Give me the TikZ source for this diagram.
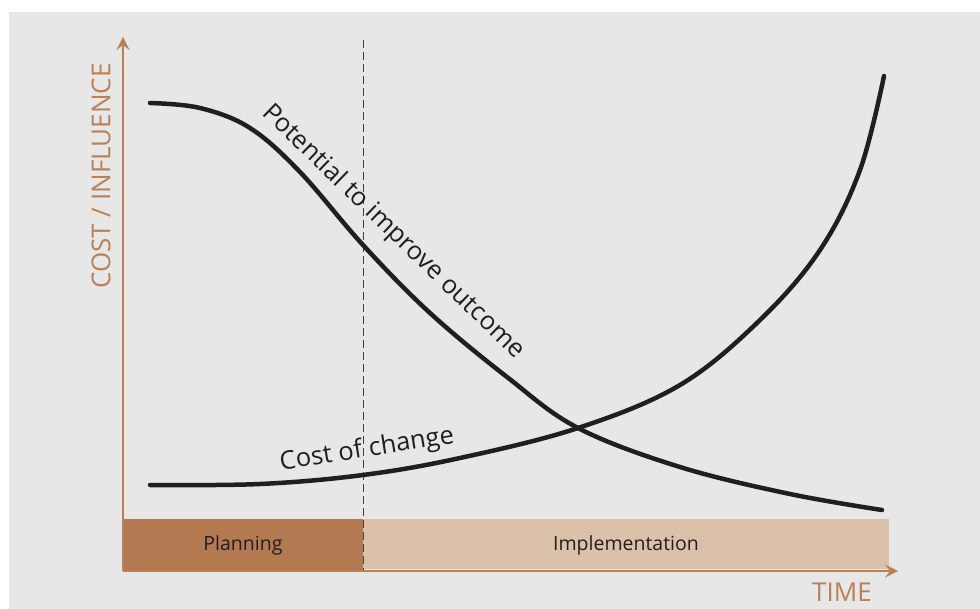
\documentclass[tikz,border=0pt]{standalone}
\usepackage{fontspec}
\setmainfont{Open Sans}
\usetikzlibrary{arrows.meta}
\definecolor{bggray}{HTML}{E6E7E6}
\definecolor{axisbrown}{HTML}{BC8055}
\definecolor{planbrown}{HTML}{B37A51}
\definecolor{implbeige}{HTML}{DBC0AA}
\definecolor{curveblack}{HTML}{221E1F}
\tikzset{
  axisline/.style={draw=axisbrown, line width=1.6pt, -{Stealth[length=13pt,width=13pt,inset=5pt]}},
  curveline/.style={draw=curveblack, line width=4.5pt, line cap=round},
  phasebox/.style={inner sep=0pt, anchor=north west},
  curvelabel/.style={font=\fontsize{25.5}{25.5}\selectfont, text=curveblack, inner sep=0pt},
  axislabel/.style={font=\fontsize{26}{26}\selectfont, text=axisbrown, inner sep=0pt},
  barlabel/.style={font=\fontsize{19.5}{19.5}\selectfont, text=curveblack, inner sep=0pt},
}
\begin{document}
\begin{tikzpicture}[x=1pt, y=-1pt]
\useasboundingbox (0,0) rectangle (980,609);
\fill[white] (0,0) rectangle (980,609);
\fill[bggray] (9,12) rectangle (980,609);
% phase bars
\node[phasebox, fill=planbrown, minimum width=240pt, minimum height=52pt] (plan) at (123,519) {};
\node[phasebox, fill=implbeige, minimum width=526pt, minimum height=50pt] (impl) at (363,519) {};
\node[barlabel] (planlbl) at (243,545) {Planning};
\node[barlabel] (impllbl) at (626,545) {Implementation};
% dashed divider
\coordinate (dtop) at (363,40);
\coordinate (dbot) at (363,571);
\draw[curveblack!85, line width=0.8pt, dash pattern=on 8pt off 4pt] (dtop) -- (dbot);
% axes
\coordinate (origin) at (123,571);
\coordinate (ytip) at (123,37);
\coordinate (xtip) at (898,571);
\draw[axisline] (origin) -- (ytip);
\draw[axisline] (origin) -- (xtip);
\node[axislabel, rotate=90] (ylbl) at (101,176) {COST / INFLUENCE};
\node[axislabel] (xlbl) at (842,592) {TIME};
% curves
\draw[curveline] plot[smooth, tension=0.6] coordinates {(150,103) (200,108) (250,128) (300,172) (363,245) (430,313) (507,377) (578,428) (680,467) (790,494) (882,510)};
\draw[curveline] plot[smooth, tension=0.6] coordinates {(150,485) (260,484) (363,475) (460,458) (578,428) (680,385) (760,320) (820,250) (860,170) (884,76)};
% labels
\node[curvelabel, rotate=-44] (potlbl) at (393,232) {Potential to improve outcome};
\node[curvelabel, rotate=9] (costlbl) at (367,450) {Cost of change};
\end{tikzpicture}
\end{document}
